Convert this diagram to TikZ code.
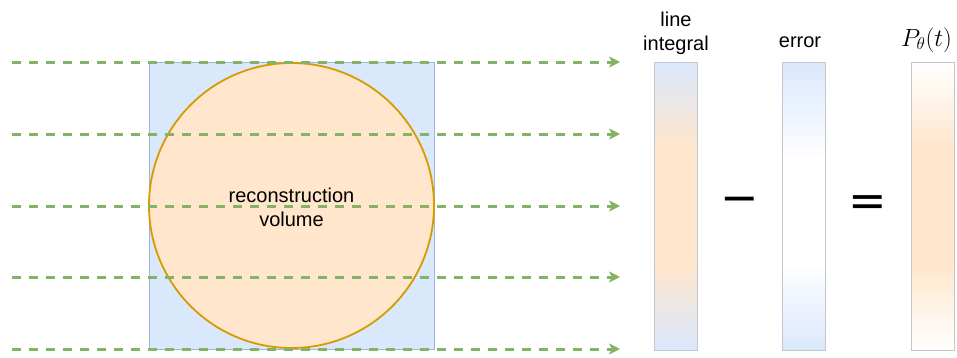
\documentclass[tikz,border=0pt]{standalone}
\usepackage{fontspec}
\setmainfont{Liberation Sans}
\newfontfamily\opfont{DejaVu Sans}
\usetikzlibrary{arrows.meta}
\definecolor{sqfill}{HTML}{DAE8FC}
\definecolor{sqdraw}{HTML}{9FB4D6}
\definecolor{cfill}{HTML}{FFE6CC}
\definecolor{cdraw}{HTML}{D79B00}
\definecolor{ray}{HTML}{82B366}
\definecolor{bardraw}{HTML}{C4C8CE}
\pgfdeclareverticalshading{lishade}{100bp}{color(0bp)=(sqfill); color(25bp)=(sqfill); color(40bp)=(cfill); color(60bp)=(cfill); color(75bp)=(sqfill); color(100bp)=(sqfill)}
\pgfdeclareverticalshading{errshade}{100bp}{color(0bp)=(sqfill); color(25bp)=(sqfill); color(40bp)=(white); color(58bp)=(white); color(75bp)=(sqfill); color(100bp)=(sqfill)}
\pgfdeclareverticalshading{pshade}{100bp}{color(0bp)=(white); color(25bp)=(white); color(40bp)=(cfill); color(60bp)=(cfill); color(75bp)=(white); color(100bp)=(white)}
\tikzset{
  lbl/.style={font=\fontsize{20}{24}\selectfont, align=center, inner sep=0pt},
  raystyle/.style={draw=ray, line width=3pt, dash pattern=on 8.5pt off 8.5pt,
    -{Stealth[length=11pt,width=11pt,inset=3pt]}},
  bar/.style={draw=bardraw, line width=0.9pt, minimum width=43pt, minimum height=288pt, inner sep=0pt},
  op/.style={font=\opfont\fontsize{46}{46}\selectfont, inner sep=0pt}
}
\begin{document}
\begin{tikzpicture}[x=1pt,y=-1pt]
\useasboundingbox (0,0) rectangle (957,357);
% volume
\node[draw=sqdraw, fill=sqfill, line width=1pt, minimum width=285pt, minimum height=287pt, inner sep=0pt] (sq) at (291.5,205.5) {};
\node[circle, draw=cdraw, fill=cfill, line width=1.8pt, minimum size=285pt, inner sep=0pt] (circ) at (291.5,205.5) {};
\node[lbl] (vol) at (291.5,207) {reconstruction\\volume};
% rays
\foreach \i/\y in {1/62,2/134,3/206,4/277,5/349}{
  \coordinate (s\i) at (12,\y);
  \coordinate (e\i) at (620,\y);
  \draw[raystyle] (s\i) -- (e\i);
}
% bars
\node[bar, shading=lishade] (li) at (675.5,206) {};
\node[bar, shading=errshade] (err) at (804,206) {};
\node[bar, shading=pshade] (p) at (932.5,206) {};
% labels
\node[lbl, anchor=south] (lil) at (676,55) {line\\integral};
\node[lbl, anchor=base] (errl) at (800,47) {error};
\node[anchor=base, inner sep=0pt, font=\fontsize{25}{30}\selectfont] (pl) at (926.5,46) {$P_\theta(t)$};
% operators
\node[op] (minus) at (740,205) {−};
\node[op] (eq) at (868,206) {=};
\end{tikzpicture}
\end{document}
